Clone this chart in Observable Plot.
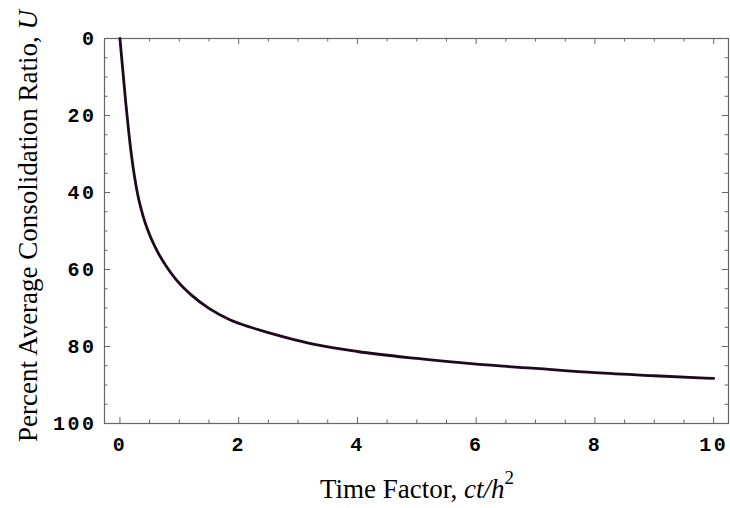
<!DOCTYPE html>
<html><head><meta charset="utf-8">
<script src="https://cdn.jsdelivr.net/npm/d3@7"></script>
<script src="https://cdn.jsdelivr.net/npm/@observablehq/plot@0.6"></script>
<style>html,body{margin:0;padding:0;background:#fff;} svg{display:block}</style>
</head><body><div id="chart"></div>
<script>
// Time factor T = ct/h^2 and percent average consolidation U
const timeFactor    = [0, 0.02, 0.05, 0.1, 0.15, 0.2, 0.25, 0.3, 0.38, 0.5, 0.63, 0.8, 0.94, 1.2, 1.5, 1.86, 2.2, 2.5, 2.93, 3.32, 4, 5, 6, 7, 8, 9, 10];
const consolidation = [0, 3.5, 8.5, 17, 24.5, 31, 36.3, 40.6, 45.6, 51, 55.3, 59.6, 62.5, 66.6, 70.1, 73.1, 75.0, 76.4, 78.2, 79.6, 81.3, 83.1, 84.6, 85.7, 86.8, 87.6, 88.3];

const xMajorTicks = [0, 2, 4, 6, 8, 10];
const xMinorTicks = [0.5, 1, 1.5, 2.5, 3, 3.5, 4.5, 5, 5.5, 6.5, 7, 7.5, 8.5, 9, 9.5];
const yMajorTicks = [0, 20, 40, 60, 80, 100];
const yMinorTicks = [5, 10, 15, 25, 30, 35, 45, 50, 55, 65, 70, 75, 85, 90, 95];

const xTitleText = "Time Factor, ";
const xTitleItalic = "ct/h";
const xTitleSup = "2";
const yTitleText = "Percent Average Consolidation Ratio, ";
const yTitleItalic = "U";

const data = timeFactor.map((t, i) => ({t, u: consolidation[i]}));

const W = 730, H = 508, mL = 104, mR = 2, mT = 38, mB = 85;
const frameW = W - mL - mR, frameH = H - mT - mB;

const axisColor = "#666666";
const tickFont = {fontFamily: "'Liberation Mono', 'Courier New', monospace", fontWeight: "bold", fontSize: 20};

// inward tick marks on all four sides, drawn as rules clipped by insets
function inwardTicks(xs, ys, len) {
  const s = {stroke: axisColor, strokeWidth: 1};
  return [
    Plot.ruleX(xs, {x: d => d, insetTop: frameH - len, ...s}),
    Plot.ruleX(xs, {x: d => d, insetBottom: frameH - len, ...s}),
    Plot.ruleY(ys, {y: d => d, insetRight: frameW - len, ...s}),
    Plot.ruleY(ys, {y: d => d, insetLeft: frameW - len, ...s})
  ];
}

const plot = Plot.plot({
  width: W,
  height: H,
  marginLeft: mL,
  marginRight: mR,
  marginTop: mT,
  marginBottom: mB,
  style: {background: "#fff", overflow: "visible"},
  x: {domain: [-0.26, 10.25], axis: null},
  y: {domain: [0, 100], reverse: true, axis: null},
  marks: [
    ...inwardTicks(xMinorTicks, yMinorTicks, 3.5),
    ...inwardTicks(xMajorTicks, yMajorTicks, 6),
    Plot.axisX(xMajorTicks, {anchor: "bottom", tickSize: 0, tickPadding: 13, fill: "#000", label: null, ...tickFont}),
    Plot.axisY(yMajorTicks, {anchor: "left", tickSize: 0, tickPadding: 8, fill: "#000", label: null, ...tickFont}),
    Plot.frame({stroke: axisColor, strokeWidth: 1.2}),
    Plot.line(data, {x: "t", y: "u", curve: "monotone-x", stroke: "#1e0a1c", strokeWidth: 2.8})
  ]
});

const svg = d3.select(plot);
svg.selectAll("g[aria-label='x-axis tick label'], g[aria-label='y-axis tick label']")
  .style("letter-spacing", "2.5px");

const serif = "'Liberation Serif', 'Times New Roman', serif";
const xt = svg.append("text")
  .attr("x", 417).attr("y", 498)
  .attr("text-anchor", "middle")
  .style("font-family", serif).style("font-size", "27px").style("fill", "#000");
xt.append("tspan").text(xTitleText);
xt.append("tspan").style("font-style", "italic").text(xTitleItalic);
xt.append("tspan").style("font-size", "19px").attr("dy", -14).text(xTitleSup);

const yt = svg.append("text")
  .attr("transform", "translate(37,226) rotate(-90)")
  .attr("text-anchor", "middle")
  .style("font-family", serif).style("font-size", "27px").style("fill", "#000");
yt.append("tspan").text(yTitleText);
yt.append("tspan").style("font-style", "italic").text(yTitleItalic);

document.getElementById("chart").appendChild(plot);
</script>
</body></html>
